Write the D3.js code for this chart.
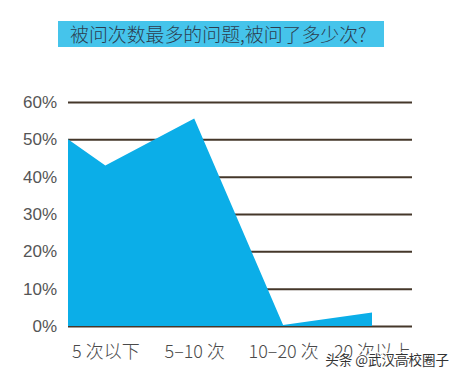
<!DOCTYPE html>
<html>
<head>
<meta charset="utf-8">
<script src="https://cdn.jsdelivr.net/npm/d3@7"></script>
<style>
  html, body { margin: 0; padding: 0; background: #fff; }
  svg { display: block; }
</style>
</head>
<body>
<script>
// ---- data ----
const title = "被问次数最多的问题,被问了多少次?";
const categories = ["5 次以下", "5–10 次", "10–20 次", "20 次以上"];
const categoryIndex = [0, 1, 2, 3];
// area outline: starts at the left edge of the plot, then one point per category
const areaX = [-0.42, 0, 1, 2, 3];
const areaValues = [50, 43, 55.6, 0.3, 3.6];
const yTicks = [0, 10, 20, 30, 40, 50, 60];
const yTickLabels = ["0%", "10%", "20%", "30%", "40%", "50%", "60%"];
const watermark = "头条 @武汉高校圈子";

// ---- layout ----
const W = 460, H = 375;
const svg = d3.select("body").append("svg").attr("width", W).attr("height", H);

const x = d3.scaleLinear().domain([-0.42, 3.45]).range([68, 412]);
const y = d3.scaleLinear().domain([0, 60]).range([326, 102]);

// title box
svg.append("rect").attr("x", 58).attr("y", 21).attr("width", 326).attr("height", 26)
  .attr("fill", "#45C4EB");
svg.append("text").attr("x", 70).attr("y", 42)
  .attr("font-family", "'Noto Sans CJK SC', sans-serif")
  .attr("font-weight", 300)
  .attr("font-size", 18.9)
  .attr("fill", "#2c3e50")
  .text(title);

// gridlines via axis
const yAxis = d3.axisLeft(y).tickValues(yTicks)
  .tickSize(-(412 - 68)).tickFormat((d, i) => yTickLabels[i]).tickPadding(11);
const gy = svg.append("g").attr("transform", "translate(68,0)").call(yAxis);
gy.select(".domain").remove();
gy.selectAll(".tick line").attr("stroke", "#45372a").attr("stroke-width", 2);
gy.selectAll(".tick text")
  .attr("font-family", "'Liberation Sans Narrow', 'Liberation Sans', sans-serif")
  .attr("font-size", 17).attr("fill", "#555");

// area
const pts = areaX.map((d, i) => [d, areaValues[i]]);
const area = d3.area().x(d => x(d[0])).y0(y(0)).y1(d => y(d[1]));
svg.append("path").datum(pts).attr("d", area).attr("fill", "#0BAEE8");

// x labels via axis
const xAxis = d3.axisBottom(x).tickValues(categoryIndex)
  .tickSize(0).tickPadding(19).tickFormat((d, i) => categories[i]);
const gx = svg.append("g").attr("transform", "translate(0,326)").call(xAxis);
gx.select(".domain").remove();
gx.selectAll(".tick text")
  .attr("font-family", "'Noto Sans CJK SC', sans-serif")
  .attr("font-weight", 300)
  .attr("font-size", 18).attr("fill", "#4a4a4a");

// watermark
svg.append("text").attr("x", 449).attr("y", 365).attr("text-anchor", "end")
  .attr("font-family", "'Noto Sans CJK SC', sans-serif")
  .attr("font-size", 13.5).attr("fill", "#333")
  .attr("stroke", "#fff").attr("stroke-width", 2).attr("paint-order", "stroke")
  .text(watermark);
</script>
</body>
</html>
